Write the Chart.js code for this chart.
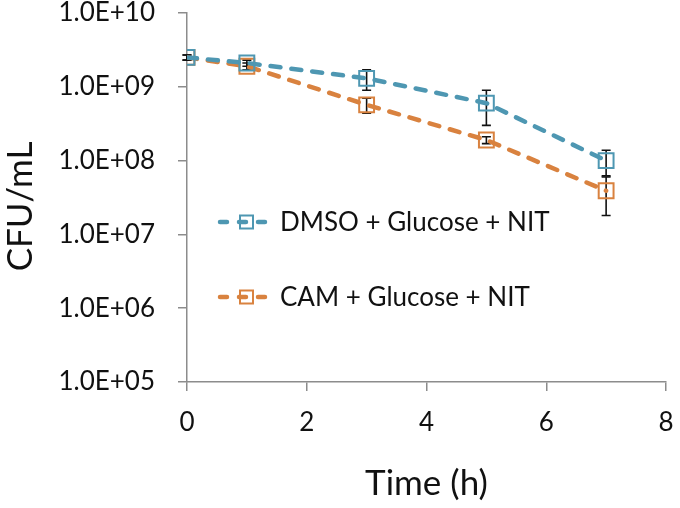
<!DOCTYPE html>
<html>
<head>
<meta charset="utf-8">
<script src="https://cdn.jsdelivr.net/npm/chart.js@4.4.1/dist/chart.umd.min.js"></script>
<style>
    html, body { margin: 0; padding: 0; background: #fff; }
    #wrap { width: 680px; height: 508px; }
</style>
</head>
<body>
<div id="wrap"><canvas id="cfu"></canvas></div>
<script>
const times = [0, 1, 3, 5, 7]
const dmsoMean = [2.5e9, 2.1e9, 1.3e9, 6.0e8, 1.0e8]
const dmsoErr = [0.2e9, 0.2e9, 0.4e9, 3.0e8, 0.38e8]
const camMean = [2.5e9, 1.9e9, 5.7e8, 1.9e8, 3.9e7]
const camErr = [0.2e9, 0.2e9, 1.3e8, 0.2e8, 2.1e7]
const xTicks = [0, 2, 4, 6, 8]
const yTicks = [1e5, 1e6, 1e7, 1e8, 1e9, 1e10]

const fontFamily = "Lato, 'Open Sans', sans-serif"
const blue = "#4e97b2"
const orange = "#d9823f"

function toPoints(means) {
    return times.map((t, i) => { return { x: t, y: means[i] } })
}

function sci(v) {
    const e = Math.round(Math.log10(v))
    return "1.0E+" + (e < 10 ? "0" + e : e)
}

// error bars, drawn under the lines
const errorBars = {
    id: "errorBars",
    beforeDatasetsDraw(chart) {
        const ctx = chart.ctx
        const xs = chart.scales.x
        const ys = chart.scales.y
        const sets = [[dmsoMean, dmsoErr], [camMean, camErr]]
        ctx.save()
        ctx.strokeStyle = "#111"
        ctx.lineWidth = 1.6
        sets.forEach(([m, e]) => {
            times.forEach((t, i) => {
                const px = xs.getPixelForValue(t)
                const top = ys.getPixelForValue(m[i] + e[i])
                const bot = ys.getPixelForValue(m[i] - e[i])
                ctx.beginPath()
                ctx.moveTo(px, top); ctx.lineTo(px, bot)
                ctx.moveTo(px - 4.5, top); ctx.lineTo(px + 4.5, top)
                ctx.moveTo(px - 4.5, bot); ctx.lineTo(px + 4.5, bot)
                ctx.stroke()
            })
        })
        ctx.restore()
    }
}

// legend sits inside the plot area, one entry per row
const insideLegend = {
    id: "insideLegend",
    afterDraw(chart) {
        const ctx = chart.ctx
        const rows = [222, 297]
        chart.data.datasets.forEach((ds, i) => {
            const y = rows[i]
            ctx.save()
            ctx.strokeStyle = ds.borderColor
            ctx.lineWidth = 4.5
            ctx.lineCap = "round"
            ctx.setLineDash([7, 12])
            ctx.beginPath()
            ctx.moveTo(220, y); ctx.lineTo(270, y)
            ctx.stroke()
            ctx.setLineDash([])
            ctx.lineWidth = 2
            ctx.strokeRect(240, y - 6.5, 13, 13)
            ctx.fillStyle = "#111"
            ctx.font = "26px " + fontFamily
            ctx.textBaseline = "middle"
            ctx.fillText(ds.label, 280, y + 1)
            ctx.restore()
        })
    }
}

const lineStyle = {
    borderWidth: 4.5,
    borderDash: [10, 11],
    borderCapStyle: "round",
    pointStyle: "rect",
    pointRadius: 10.5,
    pointHoverRadius: 10.5,
    pointBorderWidth: 2,
    pointBackgroundColor: "rgba(0,0,0,0)",
    fill: false,
    tension: 0
}

new Chart(document.getElementById("cfu"), {
    type: "line",
    data: {
        datasets: [
            Object.assign({ label: "DMSO + Glucose + NIT", data: toPoints(dmsoMean), borderColor: blue, pointBorderColor: blue }, lineStyle),
            Object.assign({ label: "CAM + Glucose + NIT", data: toPoints(camMean), borderColor: orange, pointBorderColor: orange }, lineStyle)
        ]
    },
    options: {
        responsive: true,
        maintainAspectRatio: false,
        animation: false,
        layout: { padding: { top: 13, right: 14, left: 0, bottom: 0 } },
        plugins: { legend: { display: false }, tooltip: { enabled: false } },
        scales: {
            x: {
                type: "linear",
                min: 0,
                max: 8,
                afterBuildTicks: s => { s.ticks = xTicks.map(v => ({ value: v })) },
                afterFit: s => { s.height = 126; s.paddingLeft = 0; s.paddingRight = 0 },
                grid: { drawOnChartArea: false, color: "#8c8c8c", tickLength: 9, lineWidth: 1.5 },
                border: { color: "#8c8c8c", width: 1.5 },
                ticks: { color: "#111", padding: 16, font: { family: fontFamily, size: 26 } },
                title: { display: true, text: "Time (h)", color: "#111", padding: { top: 0, bottom: 3 }, font: { family: fontFamily, size: 35 } }
            },
            y: {
                type: "logarithmic",
                min: 1e5,
                max: 1e10,
                afterBuildTicks: s => { s.ticks = yTicks.map(v => ({ value: v })) },
                afterFit: s => { s.width = 187; s.paddingTop = 0; s.paddingBottom = 0 },
                grid: { drawOnChartArea: false, color: "#8c8c8c", tickLength: 9, lineWidth: 1.5 },
                border: { color: "#8c8c8c", width: 1.5 },
                ticks: { color: "#111", padding: 23, font: { family: fontFamily, size: 26 }, callback: v => sci(v) },
                title: { display: true, text: "CFU/mL  ", color: "#111", padding: { top: 0, bottom: 0 }, font: { family: fontFamily, size: 35 } }
            }
        }
    },
    plugins: [errorBars, insideLegend]
})
</script>
</body>
</html>
